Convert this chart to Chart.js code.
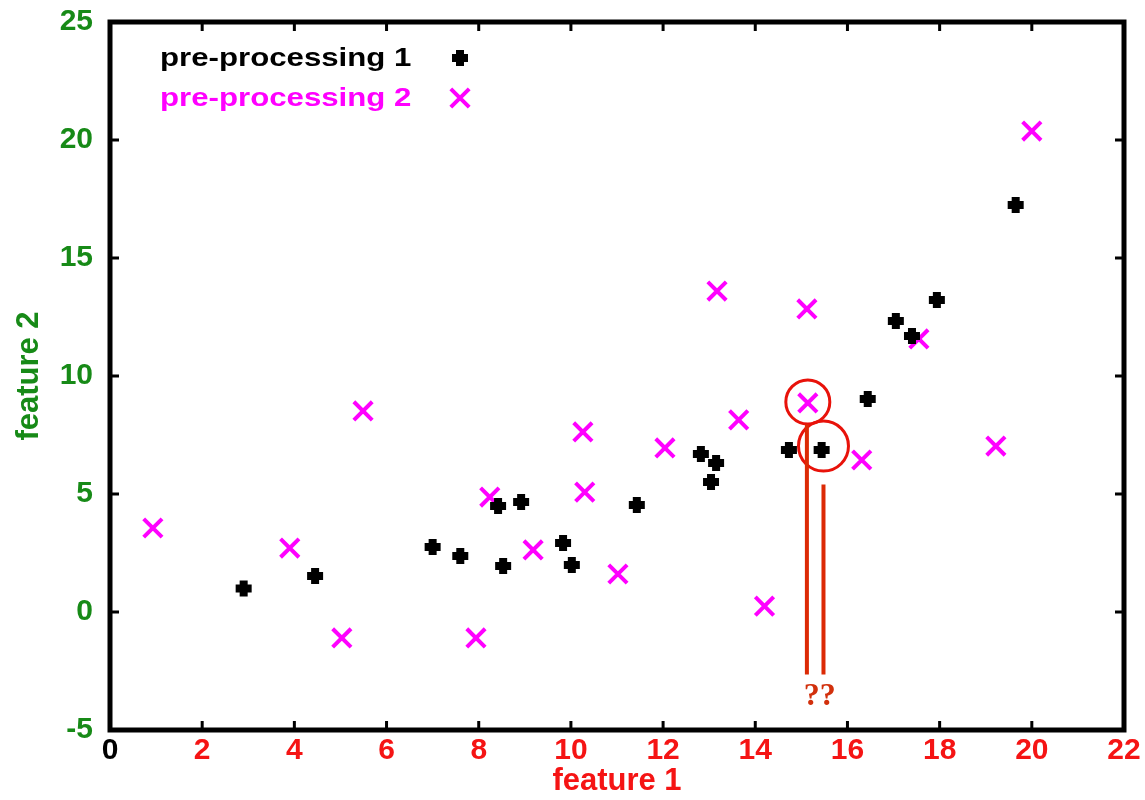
<!DOCTYPE html>
<html>
<head>
<meta charset="utf-8">
<script src="https://cdn.jsdelivr.net/npm/chart.js"></script>
<style>
  html, body { margin: 0; background: #fff; }
  #wrap { width: 1145px; height: 800px; }
</style>
</head>
<body>
<div id="wrap"><canvas id="plot"></canvas></div>
<script>
// pre-processing 1 (black)
const pre1Feature1 = [2.9, 4.45, 7.0, 7.6, 8.42, 8.53, 8.92, 9.83, 10.02, 11.43, 12.82, 13.04, 13.15, 14.73, 15.44, 16.44, 17.05, 17.4, 17.94, 19.65];
const pre1Feature2 = [1.0, 1.53, 2.75, 2.37, 4.49, 1.95, 4.66, 2.92, 1.99, 4.53, 6.69, 5.51, 6.31, 6.86, 6.86, 9.03, 12.33, 11.7, 13.22, 17.25];

// pre-processing 2 (magenta)
const pre2Feature1 = [0.93, 3.9, 5.03, 5.49, 7.94, 8.24, 9.18, 10.26, 10.3, 11.02, 12.04, 13.17, 13.64, 14.2, 15.12, 15.14, 16.31, 17.55, 19.22, 20.0];
const pre2Feature2 = [3.56, 2.71, -1.1, 8.52, -1.1, 4.87, 2.63, 7.63, 5.08, 1.61, 6.95, 13.6, 8.14, 0.25, 12.84, 8.86, 6.44, 11.57, 7.03, 20.38];

const seriesLabels = ['pre-processing 1', 'pre-processing 2'];

const xTicks = [0, 2, 4, 6, 8, 10, 12, 14, 16, 18, 20, 22];
const yTicks = [-5, 0, 5, 10, 15, 20, 25];

// the two circled points and the "??" guide lines
const circledX = [15.14, 15.48];
const circledY = [8.9, 7.03];
const guideX = [15.12, 15.48];
const guideTop = [7.95, 5.4];
const guideBottom = -2.65;
const noteX = 15.4;
const noteY = -3.6;
const noteText = '??';

const GREEN = '#178a17';
const RED = '#f51414';
const SANS = '"Liberation Sans", Arial, sans-serif';

function toPoints(xs, ys) {
    return xs.map(function(x, i) { return {x: x, y: ys[i]}; });
}

const framePlugin = {
    id: 'frame',
    beforeDatasetsDraw: function(chart) {
        const ctx = chart.ctx;
        const a = chart.chartArea;
        const xs = chart.scales.x;
        const ys = chart.scales.y;
        ctx.save();
        ctx.strokeStyle = '#000';
        ctx.lineWidth = 3;
        ctx.beginPath();
        xTicks.forEach(function(v) {
            const px = xs.getPixelForValue(v);
            ctx.moveTo(px, a.bottom); ctx.lineTo(px, a.bottom - 9);
            ctx.moveTo(px, a.top); ctx.lineTo(px, a.top + 9);
        });
        yTicks.forEach(function(v) {
            const py = ys.getPixelForValue(v);
            ctx.moveTo(a.left, py); ctx.lineTo(a.left + 9, py);
            ctx.moveTo(a.right, py); ctx.lineTo(a.right - 9, py);
        });
        ctx.stroke();
        ctx.lineWidth = 5;
        ctx.strokeRect(a.left, a.top, a.right - a.left, a.bottom - a.top);
        ctx.restore();
    }
};

const notesPlugin = {
    id: 'notes',
    afterDatasetsDraw: function(chart) {
        const ctx = chart.ctx;
        const xs = chart.scales.x;
        const ys = chart.scales.y;
        ctx.save();

        // legend, gnuplot style: text then marker
        chart.data.datasets.forEach(function(ds, i) {
            const rowY = 59 + i * 40;
            ctx.save();
            ctx.font = 'bold 26px ' + SANS;
            ctx.fillStyle = ds.labelColor;
            ctx.textAlign = 'left';
            ctx.textBaseline = 'middle';
            ctx.translate(160, rowY);
            ctx.scale(1.2, 1);
            ctx.fillText(ds.label, 0, 0);
            ctx.restore();
            ctx.strokeStyle = ds.borderColor;
            ctx.fillStyle = ds.borderColor;
            ctx.lineWidth = ds.pointBorderWidth;
            Chart.helpers.drawPoint(ctx, {
                pointStyle: ds.pointStyle,
                radius: ds.pointRadius,
                borderWidth: ds.pointBorderWidth,
                rotation: 0
            }, 460, rowY - 1);
        });

        // red circles
        ctx.strokeStyle = '#e8120a';
        ctx.lineWidth = 3;
        const radii = [22, 25];
        circledX.forEach(function(v, i) {
            ctx.beginPath();
            ctx.arc(xs.getPixelForValue(v), ys.getPixelForValue(circledY[i]), radii[i], 0, Math.PI * 2);
            ctx.stroke();
        });

        // guide lines
        ctx.strokeStyle = '#dc2a05';
        ctx.lineWidth = 4;
        ctx.beginPath();
        guideX.forEach(function(v, i) {
            const px = xs.getPixelForValue(v);
            ctx.moveTo(px, ys.getPixelForValue(guideTop[i]));
            ctx.lineTo(px, ys.getPixelForValue(guideBottom));
        });
        ctx.stroke();

        ctx.fillStyle = '#d2300c';
        ctx.font = 'bold 32px "Liberation Serif", "Times New Roman", serif';
        ctx.textAlign = 'center';
        ctx.textBaseline = 'middle';
        ctx.fillText(noteText, xs.getPixelForValue(noteX), ys.getPixelForValue(noteY));

        ctx.restore();
    }
};

new Chart(document.getElementById('plot'), {
    type: 'scatter',
    data: {
        datasets: [
            {
                label: seriesLabels[0],
                data: toPoints(pre1Feature1, pre1Feature2),
                labelColor: '#000',
                borderColor: '#000',
                backgroundColor: '#000',
                pointStyle: 'cross',
                pointRadius: 8,
                pointBorderWidth: 8
            },
            {
                label: seriesLabels[1],
                data: toPoints(pre2Feature1, pre2Feature2),
                labelColor: '#ff00ff',
                borderColor: '#ff00ff',
                backgroundColor: '#ff00ff',
                pointStyle: 'crossRot',
                pointRadius: 13,
                pointBorderWidth: 4
            }
        ]
    },
    options: {
        responsive: true,
        maintainAspectRatio: false,
        animation: false,
        events: [],
        layout: { padding: { top: 22, right: 21, left: 0, bottom: 0 } },
        plugins: {
            legend: { display: false },
            tooltip: { enabled: false }
        },
        scales: {
            x: {
                type: 'linear',
                min: 0,
                max: 22,
                afterFit: function(scale) {
                    scale.height = 70;
                    scale.paddingLeft = 0;
                    scale.paddingRight = 0;
                },
                afterBuildTicks: function(scale) { scale.ticks = xTicks.map(function(v) { return {value: v}; }); },
                grid: { display: false, drawTicks: false },
                border: { display: false },
                ticks: {
                    padding: 3,
                    maxRotation: 0,
                    font: { family: SANS, size: 30, weight: 'bold' },
                    color: function(c) { return c.tick.value === 0 ? '#000' : RED; }
                },
                title: {
                    display: true,
                    text: 'feature 1',
                    color: RED,
                    padding: { top: 0, bottom: 0 },
                    font: { family: SANS, size: 31, weight: 'bold' }
                }
            },
            y: {
                type: 'linear',
                min: -5,
                max: 25,
                afterFit: function(scale) {
                    scale.width = 110;
                    scale.paddingTop = 0;
                    scale.paddingBottom = 0;
                },
                afterBuildTicks: function(scale) { scale.ticks = yTicks.map(function(v) { return {value: v}; }); },
                grid: { display: false, drawTicks: false },
                border: { display: false },
                ticks: {
                    padding: 17,
                    font: { family: SANS, size: 30, weight: 'bold' },
                    color: GREEN
                },
                title: {
                    display: true,
                    text: 'feature 2',
                    color: GREEN,
                    padding: { top: 11, bottom: 0 },
                    font: { family: SANS, size: 31, weight: 'bold' }
                }
            }
        }
    },
    plugins: [framePlugin, notesPlugin]
});
</script>
</body>
</html>
